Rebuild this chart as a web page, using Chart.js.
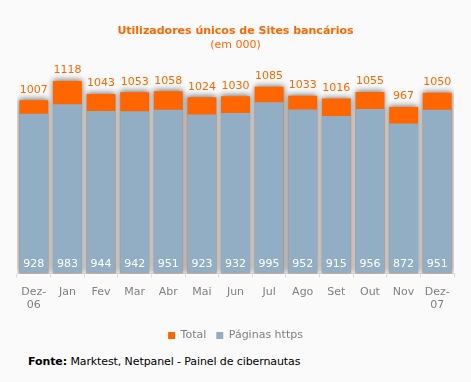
<!DOCTYPE html>
<html><head><meta charset="utf-8">
<script src="https://cdn.jsdelivr.net/npm/chart.js@4/dist/chart.umd.min.js"></script>
<style>
html,body{margin:0;padding:0;background:#fafafa;}
#wrap{position:relative;width:471px;height:382px;}
#footer{position:absolute;left:28px;top:355px;font:11px "DejaVu Sans",Verdana,sans-serif;color:#000;white-space:nowrap;letter-spacing:-0.1px}
</style></head>
<body>
<div id="wrap"><canvas id="c" width="471" height="351"></canvas>
<div id="footer"><b>Fonte:</b> Marktest, Netpanel - Painel de cibernautas</div></div>
<script>
const categories = [['Dez-','06'],'Jan','Fev','Mar','Abr','Mai','Jun','Jul','Ago','Set','Out','Nov',['Dez-','07']];
const totalValues = [1007,1118,1043,1053,1058,1024,1030,1085,1033,1016,1055,967,1050];
const httpsValues = [928,983,944,942,951,923,932,995,952,915,956,872,951];
const ORANGE = '#ff6600', BLUE = '#92aec4';
const FONT = '"DejaVu Sans", Verdana, sans-serif';

const shadowPlugin = {
  id:'shadow',
  beforeDatasetDraw(chart,args){
    if(args.index===0){const c=chart.ctx;c.save();c.shadowColor='rgba(0,0,0,0.55)';c.shadowBlur=6;c.shadowOffsetX=0;c.shadowOffsetY=-1;}
  },
  afterDatasetDraw(chart,args){ if(args.index===0) chart.ctx.restore(); }
};
const labelPlugin = {
  id:'vlabels',
  afterDatasetsDraw(chart){
    const c=chart.ctx; c.save();
    c.font='11px '+FONT; c.textAlign='center'; c.textBaseline='bottom';
    const m0=chart.getDatasetMeta(0), m1=chart.getDatasetMeta(1);
    m0.data.forEach((b,i)=>{ c.fillStyle=ORANGE; c.fillText(String(totalValues[i]), b.x, b.y-5); });
    m1.data.forEach((b,i)=>{ c.fillStyle='#ffffff'; c.fillText(String(httpsValues[i]), b.x, chart.chartArea.bottom-4); });
    c.restore();
  }
};

new Chart(document.getElementById('c'),{
  type:'bar',
  data:{labels:categories,datasets:[
    {label:'Total',data:totalValues,backgroundColor:ORANGE,order:1,barPercentage:0.86,categoryPercentage:1},
    {label:'Páginas https',data:httpsValues,backgroundColor:BLUE,order:0,barPercentage:0.86,categoryPercentage:1}
  ]},
  options:{
    responsive:false,animation:false,
    layout:{padding:{left:17,right:17,top:12,bottom:0}},
    scales:{
      x:{stacked:true,grid:{display:true,drawOnChartArea:false,drawTicks:true,tickLength:4,color:'#dddddd',offset:true},
         border:{color:'#dddddd'},
         ticks:{color:'#808080',font:{family:FONT,size:11},padding:8,maxRotation:0,autoSkip:false}},
      y:{display:false,stacked:false,min:0,max:1290}
    },
    plugins:{
      title:{display:true,text:'Utilizadores únicos de Sites bancários',color:ORANGE,font:{family:FONT,size:11,weight:'bold'},padding:{top:13,bottom:0}},
      subtitle:{display:true,text:'(em 000)',color:ORANGE,font:{family:FONT,size:11},padding:{top:0,bottom:0}},
      legend:{position:'bottom',labels:{color:'#808080',font:{family:FONT,size:11},boxWidth:7,boxHeight:7,padding:10,
        sort:(a,b)=>a.datasetIndex-b.datasetIndex}},
      tooltip:{enabled:false}
    }
  },
  plugins:[shadowPlugin,labelPlugin]
});
</script>
</body></html>
